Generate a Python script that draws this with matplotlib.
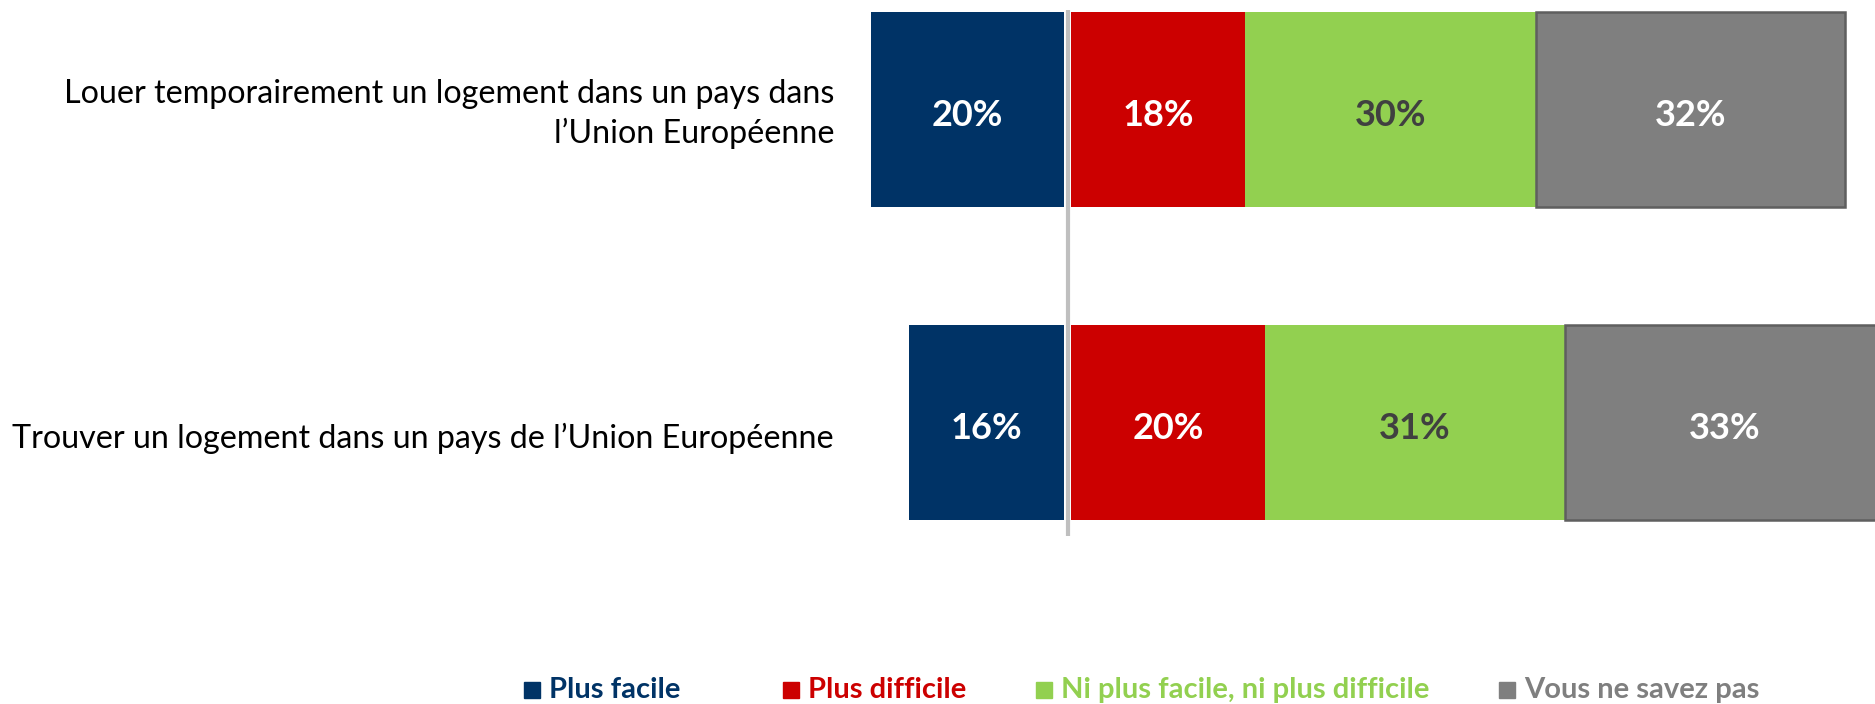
import matplotlib.pyplot as plt
from matplotlib.patches import Rectangle
from matplotlib.transforms import blended_transform_factory

# survey results (%)
categories = [
    "Louer temporairement un logement dans un pays dans\nl\u2019Union Européenne",
    "Trouver un logement dans un pays de l\u2019Union Européenne",
]
series_names = ["Plus facile", "Plus difficile", "Ni plus facile, ni plus difficile", "Vous ne savez pas"]
plus_facile = [20, 16]
plus_difficile = [18, 20]
ni_l_un_ni_l_autre = [30, 31]
ne_sait_pas = [32, 33]

colors = ["#003366", "#CC0000", "#92D050", "#7F7F7F"]
value_colors = ["white", "white", "#404040", "white"]

plt.rcParams["font.family"] = ["Lato", "DejaVu Sans"]

fig = plt.figure(figsize=(18.75, 7.04), dpi=100)
ax = fig.add_axes([0, 0, 1, 1])
ax.set_xlim(-110.3, 83.4)
ax.set_ylim(1.898, -0.351)
ax.axis("off")

gap = 0.35
height = 0.623
text_dy = 0.018
ypos = list(range(len(categories)))

# "plus facile" goes left of the centre line, the rest stacks to the right
ax.barh(ypos, plus_facile, left=[-v - gap for v in plus_facile], height=height,
        color=colors[0], edgecolor="none")
for i, v in enumerate(plus_facile):
    ax.text(-v / 2 - gap, i + text_dy, f"{v}%", ha="center", va="center",
            fontsize=26, fontweight="bold", color=value_colors[0])

right_series = [plus_difficile, ni_l_un_ni_l_autre, ne_sait_pas]
starts = [gap] * len(categories)
for k, vals in enumerate(right_series, start=1):
    edge = "#5F5F5F" if k == 3 else "none"
    ax.barh(ypos, vals, left=starts, height=height, color=colors[k],
            edgecolor=edge, linewidth=1.8)
    for i, v in enumerate(vals):
        ax.text(starts[i] + v / 2, i + text_dy, f"{v}%", ha="center", va="center",
                fontsize=26, fontweight="bold", color=value_colors[k])
    starts = [s + v for s, v in zip(starts, vals)]

# centre line
ax.plot([0, 0], [-0.319, 1.361], color="#BFBFBF", linewidth=3, solid_capstyle="butt")

# category labels
label_y = [0.013, 1.05]
label_tr = blended_transform_factory(ax.transAxes, ax.transData)
for y, cat in zip(label_y, categories):
    ax.text(0.4448, y, cat, transform=label_tr,
            ha="right", va="center", multialignment="right",
            fontsize=23.2, color="black", linespacing=1.33)

# legend
legend_x = [0.2795, 0.4176, 0.5525, 0.7995]
legend_y = 14 / 704
sq_w = 16 / 1875
sq_h = 16 / 704
for x, name, c in zip(legend_x, series_names, colors):
    fig.patches.append(Rectangle((x, legend_y - sq_h / 2), sq_w, sq_h,
                                 transform=fig.transFigure, color=c))
    fig.text(x + sq_w + 0.005, legend_y, name, ha="left", va="center",
             fontsize=21, fontweight="bold", color=c)

fig.savefig("out.png", dpi=100)
